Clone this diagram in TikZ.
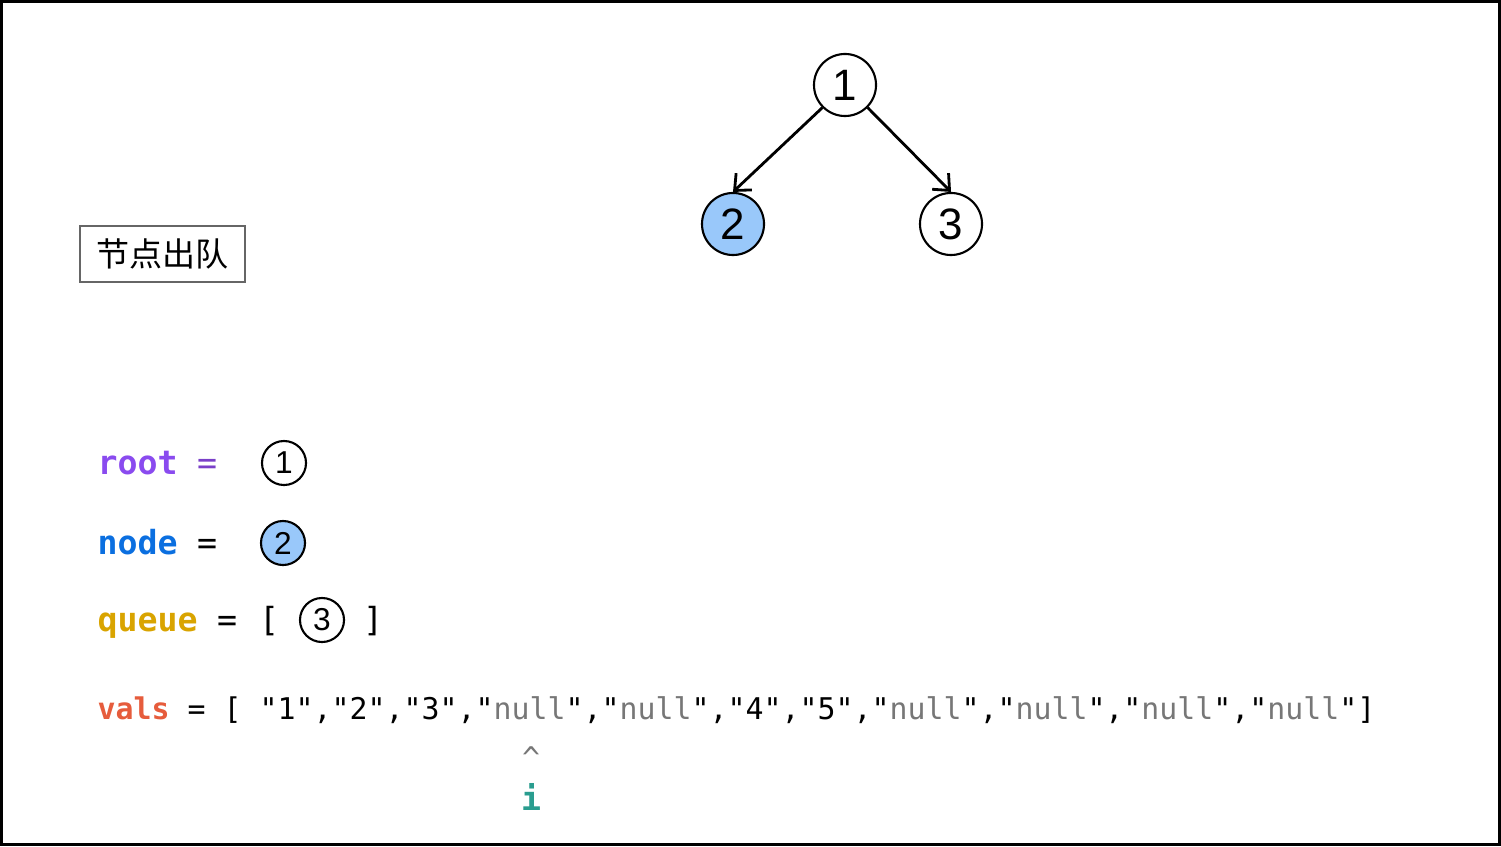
\documentclass[tikz,border=0pt]{standalone}
\usepackage{fontspec}
\setmainfont{Liberation Sans}
\setmonofont{DejaVu Sans Mono}
\newfontfamily\cjkfont{Noto Sans CJK SC}
\usetikzlibrary{positioning, arrows.meta}

\definecolor{rootcol}{HTML}{8A4BEF}
\definecolor{rooteq}{HTML}{7A3FC8}
\definecolor{nodecol}{HTML}{0B6FE0}
\definecolor{queuecol}{HTML}{D9A400}
\definecolor{valscol}{HTML}{E65C3C}
\definecolor{icol}{HTML}{2A9D8F}
\definecolor{nullcol}{HTML}{777777}
\definecolor{visited}{HTML}{99C8FA}

\newcommand{\nullv}{\textcolor{nullcol}{null}}

\tikzset{
  treenode/.style={circle, draw, semithick, minimum size=0.62cm, inner sep=0pt,
    font=\fontsize{12.5}{12.5}\selectfont},
  varnode/.style={circle, draw, semithick, minimum size=0.44cm, inner sep=0pt,
    font=\fontsize{9}{9}\selectfont},
  treeedge/.style={line width=0.8pt, -{Straight Barb[length=1.3mm, width=2.3mm]}},
  code/.style={inner sep=0pt, anchor=base west, font=\ttfamily\fontsize{9.45}{10}\selectfont},
  codesym/.style={inner sep=0pt, anchor=base, font=\ttfamily\fontsize{9.45}{10}\selectfont},
  valsline/.style={inner sep=0pt, anchor=base west, font=\ttfamily\fontsize{8.5}{10}\selectfont},
}

\begin{document}
\begin{tikzpicture}[x=0.01cm, y=-0.01cm]
	\useasboundingbox (0,0) rectangle (1501,846);
	\draw[line width=0.03cm] (1.5,1.5) rectangle (1499.5,844.5);

	% tree
	\node[treenode] (n1) at (845,85) {1};
	\node[treenode, fill=visited] (n2) at (733,224) {2};
	\node[treenode] (n3) at (951,224) {3};
	\draw[treeedge] (n1.south west) -- (n2.north);
	\draw[treeedge] (n1.south east) -- (n3.north);

	% step label
	\node[draw=black!60, semithick, minimum width=1.65cm, minimum height=0.56cm, inner sep=0pt,
		font=\cjkfont\fontsize{9.4}{9.4}\selectfont] (step) at (162.5,254) {节点出队};

	% variables
	\node[code] (root) at (97,474) {\textbf{\textcolor{rootcol}{root}}};
	\node[codesym, rooteq] (rooteqs) at (207,474) {=};
	\node[varnode] (rootval) at (284,463) {1};

	\node[code] (node) at (97,554) {\textbf{\textcolor{nodecol}{node}}};
	\node[codesym] (nodeeqs) at (207,554) {=};
	\node[varnode, fill=visited] (nodeval) at (283,543) {2};

	\node[code] (queue) at (97,631) {\textbf{\textcolor{queuecol}{queue}}};
	\node[codesym] (queueeqs) at (227,631) {=};
	\node[codesym] (qopen) at (269,631) {[};
	\node[varnode] (qval) at (322,620) {3};
	\node[codesym] (qclose) at (373,631) {]};

	\node[valsline] (vals) at (97,719) {\textbf{\textcolor{valscol}{vals}} = [ "1","2","3","\nullv","\nullv","4","5","\nullv","\nullv","\nullv","\nullv"]};

	% pointer
	\node[codesym, nullcol, font=\ttfamily\fontsize{8.5}{10}\selectfont] (caret) at (531,768) {\^{}};
	\node[codesym, icol] (ptr) at (531,810) {\textbf{i}};
\end{tikzpicture}
\end{document}
